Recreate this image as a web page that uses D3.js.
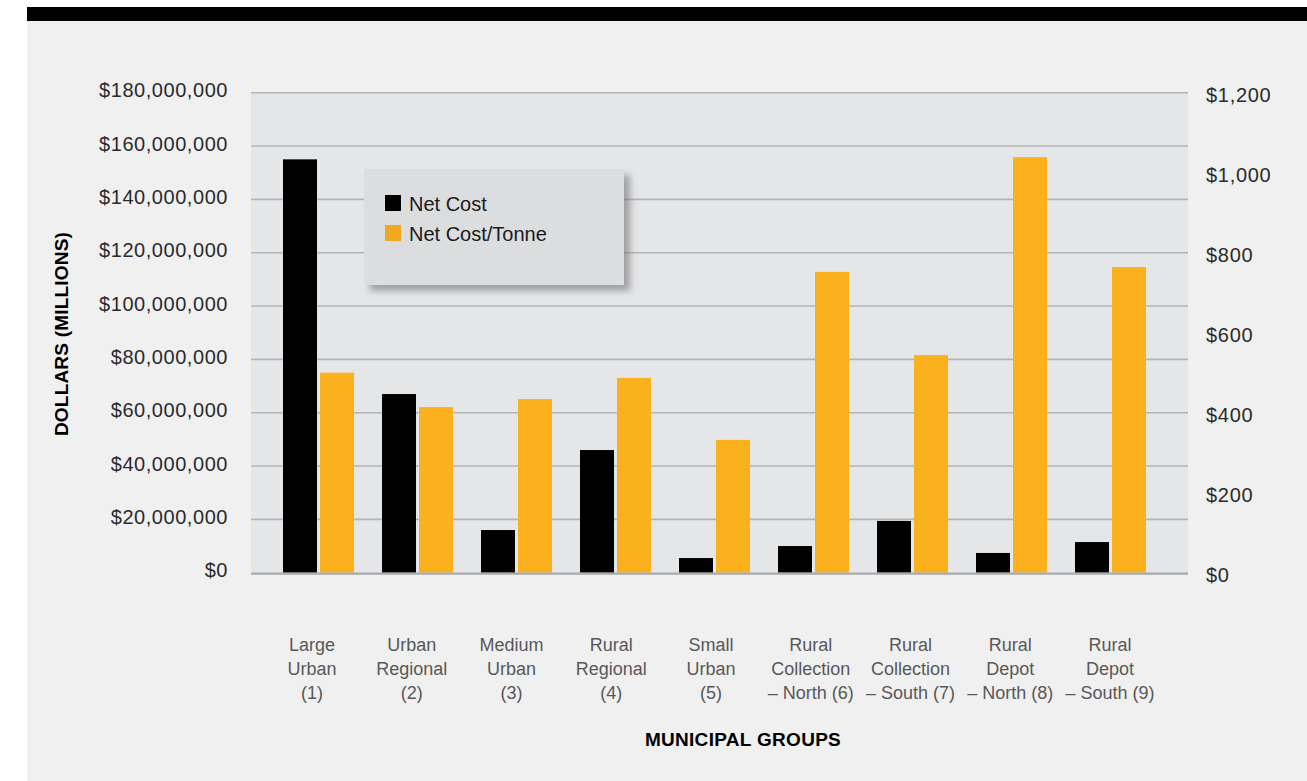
<!DOCTYPE html>
<html>
<head>
<meta charset="utf-8">
<script src="https://cdn.jsdelivr.net/npm/d3@7"></script>
<style>
  html, body { margin: 0; padding: 0; background: #ffffff; }
  svg { display: block; font-family: "Liberation Sans", Arial, Helvetica, sans-serif; }
</style>
</head>
<body>
<svg id="chart" width="1307" height="781"></svg>
<script>
// Municipal groups, one label line per array entry
const categories = [
  ["Large", "Urban", "(1)"],
  ["Urban", "Regional", "(2)"],
  ["Medium", "Urban", "(3)"],
  ["Rural", "Regional", "(4)"],
  ["Small", "Urban", "(5)"],
  ["Rural", "Collection", "– North (6)"],
  ["Rural", "Collection", "– South (7)"],
  ["Rural", "Depot", "– North (8)"],
  ["Rural", "Depot", "– South (9)"]
];

// Net cost in dollars (left axis)
const netCost = [155000000, 67000000, 16000000, 46000000, 5500000, 10000000, 19400000, 7400000, 11500000];
// Net cost per tonne in dollars (right axis)
const netCostPerTonne = [500, 414, 434, 487, 332, 752, 544, 1039, 764];

const seriesNames = ["Net Cost", "Net Cost/Tonne"];
const seriesColors = ["#000000", "#fbb11e"];

const leftTicks = [0, 20000000, 40000000, 60000000, 80000000, 100000000, 120000000, 140000000, 160000000, 180000000];
const rightTicks = [0, 200, 400, 600, 800, 1000, 1200];

const svg = d3.select("#chart");
const W = 1307, H = 781;

// page frame: grey panel with a black rule on top
svg.append("rect").attr("x", 27).attr("y", 21).attr("width", W - 27).attr("height", H - 21).attr("fill", "#f0f0f0");
svg.append("rect").attr("x", 27).attr("y", 7).attr("width", W - 27).attr("height", 14).attr("fill", "#000000");

const plot = { left: 251, right: 1188, top: 92.7, bottom: 572.7 };

const yLeft = d3.scaleLinear().domain([0, 180000000]).range([plot.bottom, plot.top]);
const yRight = d3.scaleLinear().domain([0, 1200]).range([plot.bottom, plot.top]);

const keys = categories.map((c, i) => i);
const x0 = d3.scaleBand().domain(keys).range([269, 1160]).paddingInner(28 / 99).paddingOuter(14 / 99);
const x1 = d3.scaleBand().domain([0, 1]).range([0, x0.bandwidth()]).paddingInner(3 / 37).paddingOuter(0);
const xLabel = d3.scalePoint().domain(keys).range([312, 1110]);

// plot background
svg.append("rect")
  .attr("x", plot.left).attr("y", plot.top)
  .attr("width", plot.right - plot.left).attr("height", plot.bottom - plot.top)
  .attr("fill", "#e5e6e8");

// horizontal gridlines from the left axis ticks
svg.append("g")
  .selectAll("line")
  .data(leftTicks.filter(d => d > 0))
  .join("line")
  .attr("x1", plot.left).attr("x2", plot.right)
  .attr("y1", d => yLeft(d)).attr("y2", d => yLeft(d))
  .attr("stroke", "#b3b4b6").attr("stroke-width", 1.6);

// bars
const groups = svg.append("g")
  .selectAll("g")
  .data(keys)
  .join("g")
  .attr("transform", i => `translate(${x0(i)},0)`);

groups.append("rect")
  .attr("x", x1(0))
  .attr("width", x1.bandwidth())
  .attr("y", i => yLeft(netCost[i]))
  .attr("height", i => yLeft(0) - yLeft(netCost[i]))
  .attr("fill", seriesColors[0]);

groups.append("rect")
  .attr("x", x1(1))
  .attr("width", x1.bandwidth())
  .attr("y", i => yRight(netCostPerTonne[i]))
  .attr("height", i => yRight(0) - yRight(netCostPerTonne[i]))
  .attr("fill", seriesColors[1]);

// baseline
svg.append("line")
  .attr("x1", plot.left).attr("x2", plot.right)
  .attr("y1", plot.bottom + 1).attr("y2", plot.bottom + 1)
  .attr("stroke", "#a9aaac").attr("stroke-width", 2.2);

// left axis
const fmtLeft = d => "$" + d3.format(",")(d);
const leftAxis = svg.append("g")
  .attr("transform", `translate(228,0)`)
  .call(d3.axisLeft(yLeft).tickValues(leftTicks).tickFormat(fmtLeft).tickSize(0).tickPadding(0));
leftAxis.select(".domain").remove();
leftAxis.selectAll("text")
  .attr("font-size", 20).attr("fill", "#2b2b2b").attr("dy", "0.2em")
  .attr("letter-spacing", 0.55)
  .attr("font-family", "\"Liberation Sans\", Arial, sans-serif");

// right axis
const fmtRight = d => "$" + d3.format(",")(d);
const rightAxis = svg.append("g")
  .attr("transform", `translate(1206,0)`)
  .call(d3.axisRight(yRight).tickValues(rightTicks).tickFormat(fmtRight).tickSize(0).tickPadding(0));
rightAxis.select(".domain").remove();
rightAxis.selectAll("text")
  .attr("font-size", 20).attr("fill", "#2b2b2b").attr("dy", "0.42em")
  .attr("letter-spacing", 0.7)
  .attr("font-family", "\"Liberation Sans\", Arial, sans-serif");

// category labels
const catLabels = svg.append("g")
  .selectAll("text")
  .data(keys)
  .join("text")
  .attr("x", i => xLabel(i))
  .attr("y", 651)
  .attr("text-anchor", "middle")
  .attr("font-size", 18)
  .attr("fill", "#585858");
catLabels.selectAll("tspan")
  .data(i => categories[i].map(line => ({ line, x: xLabel(i) })))
  .join("tspan")
  .attr("x", d => d.x)
  .attr("dy", (d, j) => j === 0 ? 0 : 24)
  .text(d => d.line);

// axis titles
svg.append("text")
  .attr("x", 743).attr("y", 746)
  .attr("text-anchor", "middle")
  .attr("font-size", 19).attr("font-weight", "bold").attr("fill", "#000")
  .attr("letter-spacing", 0.3)
  .text("MUNICIPAL GROUPS");

svg.append("text")
  .attr("transform", "translate(68,334) rotate(-90)")
  .attr("text-anchor", "middle")
  .attr("font-size", 19).attr("font-weight", "bold").attr("fill", "#000")
  .attr("letter-spacing", 0.2)
  .text("DOLLARS (MILLIONS)");

// legend box with a soft drop shadow
const defs = svg.append("defs");
const f = defs.append("filter").attr("id", "legendShadow")
  .attr("x", "-10%").attr("y", "-10%").attr("width", "130%").attr("height", "140%");
f.append("feDropShadow")
  .attr("dx", 6).attr("dy", 6).attr("stdDeviation", 3.5)
  .attr("flood-color", "#6f6f6f").attr("flood-opacity", 0.6);

const legend = svg.append("g").attr("transform", "translate(364,169)");
legend.append("rect")
  .attr("width", 260).attr("height", 116)
  .attr("fill", "#dcdddf")
  .attr("filter", "url(#legendShadow)");

const items = legend.selectAll("g.item")
  .data(seriesNames)
  .join("g")
  .attr("class", "item")
  .attr("transform", (d, i) => `translate(21,${26 + i * 30})`);
items.append("rect")
  .attr("width", 16).attr("height", 16)
  .attr("fill", (d, i) => i === 0 ? seriesColors[0] : "#efa91c");
items.append("text")
  .attr("x", 24).attr("y", 15.5)
  .attr("font-size", 20).attr("fill", "#1a1a1a")
  .text(d => d);
</script>
</body>
</html>
